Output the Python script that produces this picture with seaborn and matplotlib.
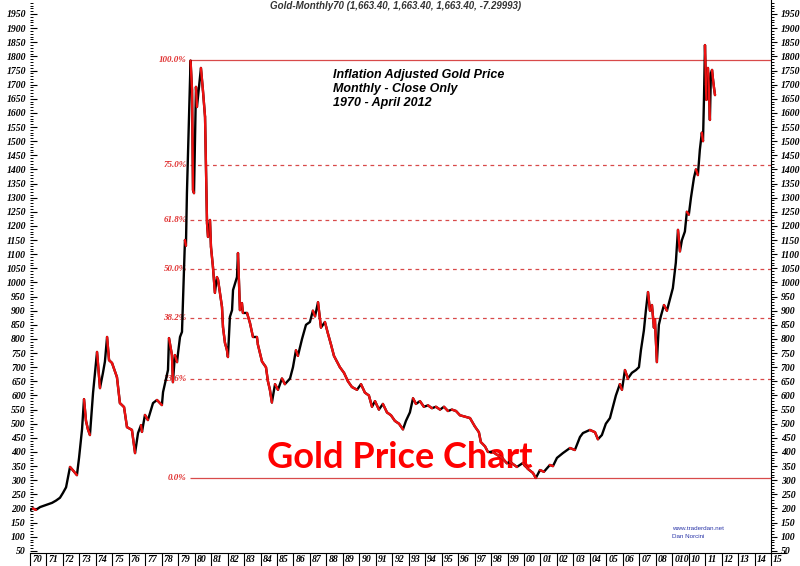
import matplotlib
matplotlib.use("Agg")
import matplotlib.pyplot as plt
import seaborn as sns
import numpy as np
import pandas as pd
from matplotlib.collections import LineCollection
from matplotlib.ticker import MultipleLocator
import matplotlib.transforms as mtransforms

# ---------------- data ----------------
years = [1970.00, 1970.18, 1970.36, 1970.61, 1970.85, 1971.09, 1971.34, 1971.58, 1971.82,
         1972.00, 1972.19, 1972.31, 1972.43, 1972.61, 1972.85, 1972.98,
         1973.16, 1973.28, 1973.40, 1973.52, 1973.64, 1973.83,
         1974.07, 1974.25, 1974.43, 1974.55, 1974.68, 1974.80, 1974.98,
         1975.28, 1975.46, 1975.71, 1975.89,
         1976.19, 1976.38, 1976.56, 1976.74, 1976.80, 1976.98,
         1977.16, 1977.47, 1977.71,
         1978.01, 1978.08, 1978.38, 1978.44, 1978.62, 1978.68, 1978.80, 1978.93, 1978.99,
         1979.11, 1979.23, 1979.29, 1979.35, 1979.41, 1979.47, 1979.53, 1979.59, 1979.65,
         1979.75, 1979.84, 1979.90, 1979.96,
         1980.08, 1980.14, 1980.26, 1980.38, 1980.50, 1980.63, 1980.75, 1980.81, 1980.93, 1980.99,
         1981.11, 1981.23, 1981.35, 1981.42, 1981.66, 1981.72, 1981.84, 1981.96,
         1982.02, 1982.14, 1982.27, 1982.33, 1982.57, 1982.63, 1982.75, 1982.87, 1982.93,
         1983.18, 1983.36, 1983.54, 1983.78, 1983.84,
         1984.09, 1984.33, 1984.45, 1984.57, 1984.69, 1984.88,
         1985.06, 1985.30, 1985.48, 1985.79, 1985.97,
         1986.15, 1986.27, 1986.52, 1986.76,
         1987.00, 1987.18, 1987.31, 1987.49, 1987.67, 1987.91,
         1988.09, 1988.28, 1988.46, 1988.64, 1988.82,
         1989.07, 1989.31, 1989.55, 1989.86,
         1990.10, 1990.34, 1990.58, 1990.77, 1990.95,
         1991.19, 1991.43, 1991.68, 1991.92,
         1992.16, 1992.41, 1992.65, 1992.83,
         1993.07, 1993.26, 1993.44, 1993.68, 1993.92,
         1994.17, 1994.41, 1994.65, 1994.90,
         1995.14, 1995.38, 1995.62, 1995.87,
         1996.11, 1996.41, 1996.72,
         1997.02, 1997.26, 1997.38, 1997.63, 1997.81,
         1998.11, 1998.36, 1998.66, 1998.96,
         1999.15, 1999.57, 1999.93,
         2000.24, 2000.54, 2000.72, 2000.97,
         2001.21, 2001.57, 2001.76,
         2002.00, 2002.36, 2002.79,
         2003.09, 2003.40, 2003.58,
         2004.00, 2004.31, 2004.49, 2004.73, 2004.97,
         2005.22, 2005.40, 2005.58, 2005.82, 2005.95,
         2006.13, 2006.31, 2006.55, 2006.80, 2006.98,
         2007.10, 2007.28, 2007.40, 2007.53, 2007.65, 2007.77, 2007.89, 2007.95,
         2008.07, 2008.19, 2008.31, 2008.50, 2008.68, 2008.86,
         2009.04, 2009.22, 2009.35, 2009.47, 2009.59, 2009.77, 2009.89,
         2010.01, 2010.14, 2010.32, 2010.44, 2010.56, 2010.68, 2010.80, 2010.87, 2010.93, 2010.99,
         2011.05, 2011.08, 2011.11, 2011.17, 2011.23, 2011.29, 2011.35, 2011.42, 2011.48,
         2011.54, 2011.60]

prices = [195, 200, 195, 205, 210, 215, 220, 228, 238,
          255, 275, 310, 347, 335, 318, 380,
          480, 587, 510, 480, 460, 610,
          754, 626, 680, 720, 807, 725, 715,
          665, 573, 559, 488,
          478, 396, 467, 495, 471, 531,
          513, 573, 584,
          566, 612, 690, 803, 743, 647, 743, 718, 750,
          807, 825, 937, 1044, 1150, 1130, 1316, 1444, 1586,
          1785, 1681, 1327, 1316,
          1692, 1621, 1692, 1759, 1681, 1586, 1210, 1161, 1221, 1126,
          1055, 963, 1019, 1009, 913, 842, 786, 761,
          736, 878, 902, 973, 1019, 1104, 902, 927, 892,
          892, 856, 807, 807, 780,
          720, 700, 650, 620, 575, 640,
          620, 660, 640, 660, 700,
          760, 740, 800, 850,
          860, 900, 880, 930, 840, 860,
          820, 780, 740, 720, 700,
          680, 650, 630, 620,
          640, 610, 600, 560, 580,
          550, 570, 540, 530,
          510, 500, 480, 510,
          540, 590, 570, 580, 560,
          565, 555, 560, 550,
          560, 545, 550, 545,
          530, 525, 520,
          490, 470, 435, 420, 400,
          400, 390, 380, 360,
          365, 347, 361,
          340, 326, 308, 336,
          330, 354, 350,
          379, 396, 414,
          407, 453, 467,
          478, 470, 445, 460, 500,
          520, 560, 600, 640, 620,
          690, 660, 680, 690, 700,
          760, 830, 900, 966, 900, 920, 840, 870,
          718, 850, 880, 920, 900, 940,
          980, 1070, 1186, 1110, 1150, 1180, 1250,
          1240, 1300, 1370, 1400, 1380, 1470, 1530, 1500, 1650, 1840,
          1700, 1646, 1741, 1759, 1681, 1575, 1741, 1752, 1717,
          1688, 1663]

fib_high = 1787
fib_low = 308
fib_start = 1979.72
fib_pcts = [1.0, 0.75, 0.618, 0.5, 0.382, 0.236, 0.0]
fib_labels = ["100.0%", "75.0%", "61.8%", "50.0%", "38.2%", "23.6%", "0.0%"]

year_ticks = list(range(1970, 2016))
year_labels = [f"{y % 100:02d}" for y in range(1970, 2009)] + ["010", "10", "11", "12", "13", "14", "15"]

y_major = list(range(50, 2000, 50))

# ---------------- style ----------------
sns.set_theme(style="white")
plt.rcParams['font.family'] = ['Liberation Sans', 'DejaVu Sans']

fig = plt.figure(figsize=(8, 5.66), dpi=100)
fig.patch.set_facecolor("white")
ax = fig.add_axes([30 / 800, 13 / 566, 741 / 800, 553 / 566])
ax.set_facecolor("white")

df = pd.DataFrame({"year": years, "price": prices})
sns.lineplot(data=df, x="year", y="price", color="black", lw=1.7,
             sort=False, estimator=None, ax=ax, zorder=3)

pts = np.column_stack([years, prices])
segs = [pts[i:i + 2] for i in range(len(pts) - 1) if prices[i + 1] < prices[i]]
ax.add_collection(LineCollection(segs, colors="#ee1111", linewidths=1.7, zorder=4,
                                 capstyle="round"))

ylo, yhi = 42.5, 1999.5
ax.set_xlim(1970, 2015)
ax.set_ylim(ylo, yhi)
ax.set_xlabel("")
ax.set_ylabel("")

# fibonacci retracement lines
fib_color = "#d84a4a"
for p, lab in zip(fib_pcts, fib_labels):
    lvl = fib_low + p * (fib_high - fib_low)
    ls = "-" if p in (0.0, 1.0) else (0, (3, 3))
    ax.hlines(lvl, fib_start, 2015, colors=fib_color, linewidth=0.9, linestyles=ls, zorder=2)
    ax.text(fib_start - 0.2, lvl, lab, ha="right", va="center", fontsize=6.5,
            family="Liberation Serif", style="italic", weight="bold", color="#e03030", zorder=2)

# y axis left
tick_font = dict(family="Liberation Serif", style="italic", weight="bold", size=7, color="black")
ax.set_yticks(y_major)
ax.set_yticklabels([str(v) for v in y_major], **tick_font)
ax.yaxis.set_minor_locator(MultipleLocator(10))
ax.tick_params(axis="y", which="major", direction="in", length=5, width=0.8, color="black",
               left=True, right=False, pad=3)
ax.tick_params(axis="y", which="minor", direction="in", length=2.5, width=0.7, color="black",
               left=True, right=False)

# y axis right
ax2 = ax.twinx()
ax2.set_ylim(ylo, yhi)
ax2.set_yticks(y_major)
ax2.set_yticklabels([str(v) for v in y_major], **tick_font)
ax2.yaxis.set_minor_locator(MultipleLocator(10))
ax2.tick_params(axis="y", which="major", direction="out", length=4, width=0.8, color="black",
                right=True, pad=3)
ax2.tick_params(axis="y", which="minor", direction="out", length=2, width=0.7, color="black",
                right=True)
ax2.grid(False)
for sp in ["top", "left", "bottom"]:
    ax2.spines[sp].set_visible(False)
ax2.spines["right"].set_color("black")
ax2.spines["right"].set_linewidth(0.8)

# x axis: year boxes
ax.set_xticks(year_ticks)
ax.set_xticklabels([""] * len(year_ticks))
ax.tick_params(axis="x", which="major", direction="out", length=9.5, width=0.8,
               color="black", bottom=True)
trans = mtransforms.blended_transform_factory(ax.transData, ax.transAxes)
for y, lab in zip(year_ticks, year_labels):
    ax.text(y + 0.13, -0.0115, lab, transform=trans, ha="left", va="center", **tick_font)
ax.plot([2015, 2015.9], [ylo, ylo], color="black", lw=0.8, clip_on=False)

ax.grid(False)
ax.spines["top"].set_visible(False)
ax.spines["left"].set_visible(False)
ax.spines["right"].set_visible(False)
ax.spines["bottom"].set_color("black")
ax.spines["bottom"].set_linewidth(0.8)

# texts
fig.text(396 / 800, 1 - 6 / 566, "Gold-Monthly70 (1,663.40, 1,663.40, 1,663.40, -7.29993)",
         ha="center", va="center", fontsize=7, style="italic", weight="bold", color="#333333")

for i, line in enumerate(["Inflation Adjusted Gold Price", "Monthly - Close Only", "1970 - April 2012"]):
    fig.text(333 / 800, 1 - (75 + 14 * i) / 566, line, ha="left", va="center",
             fontsize=9, style="italic", weight="bold", color="black")

ax.text(400 / 800, 1 - 458 / 566, "Gold Price Chart", transform=fig.transFigure,
        ha="center", va="center", fontsize=26, weight="bold", family=["Lato", "DejaVu Sans"],
        color="#ff0000", zorder=1)

fig.text(672 / 800, 1 - 529 / 566, "www.traderdan.net", ha="left", va="center",
         fontsize=4.5, color="#2a35a8")
fig.text(672 / 800, 1 - 537 / 566, "Dan Norcini", ha="left", va="center",
         fontsize=4.5, color="#2a35a8")

fig.savefig("out.png", dpi=100, facecolor="white")
